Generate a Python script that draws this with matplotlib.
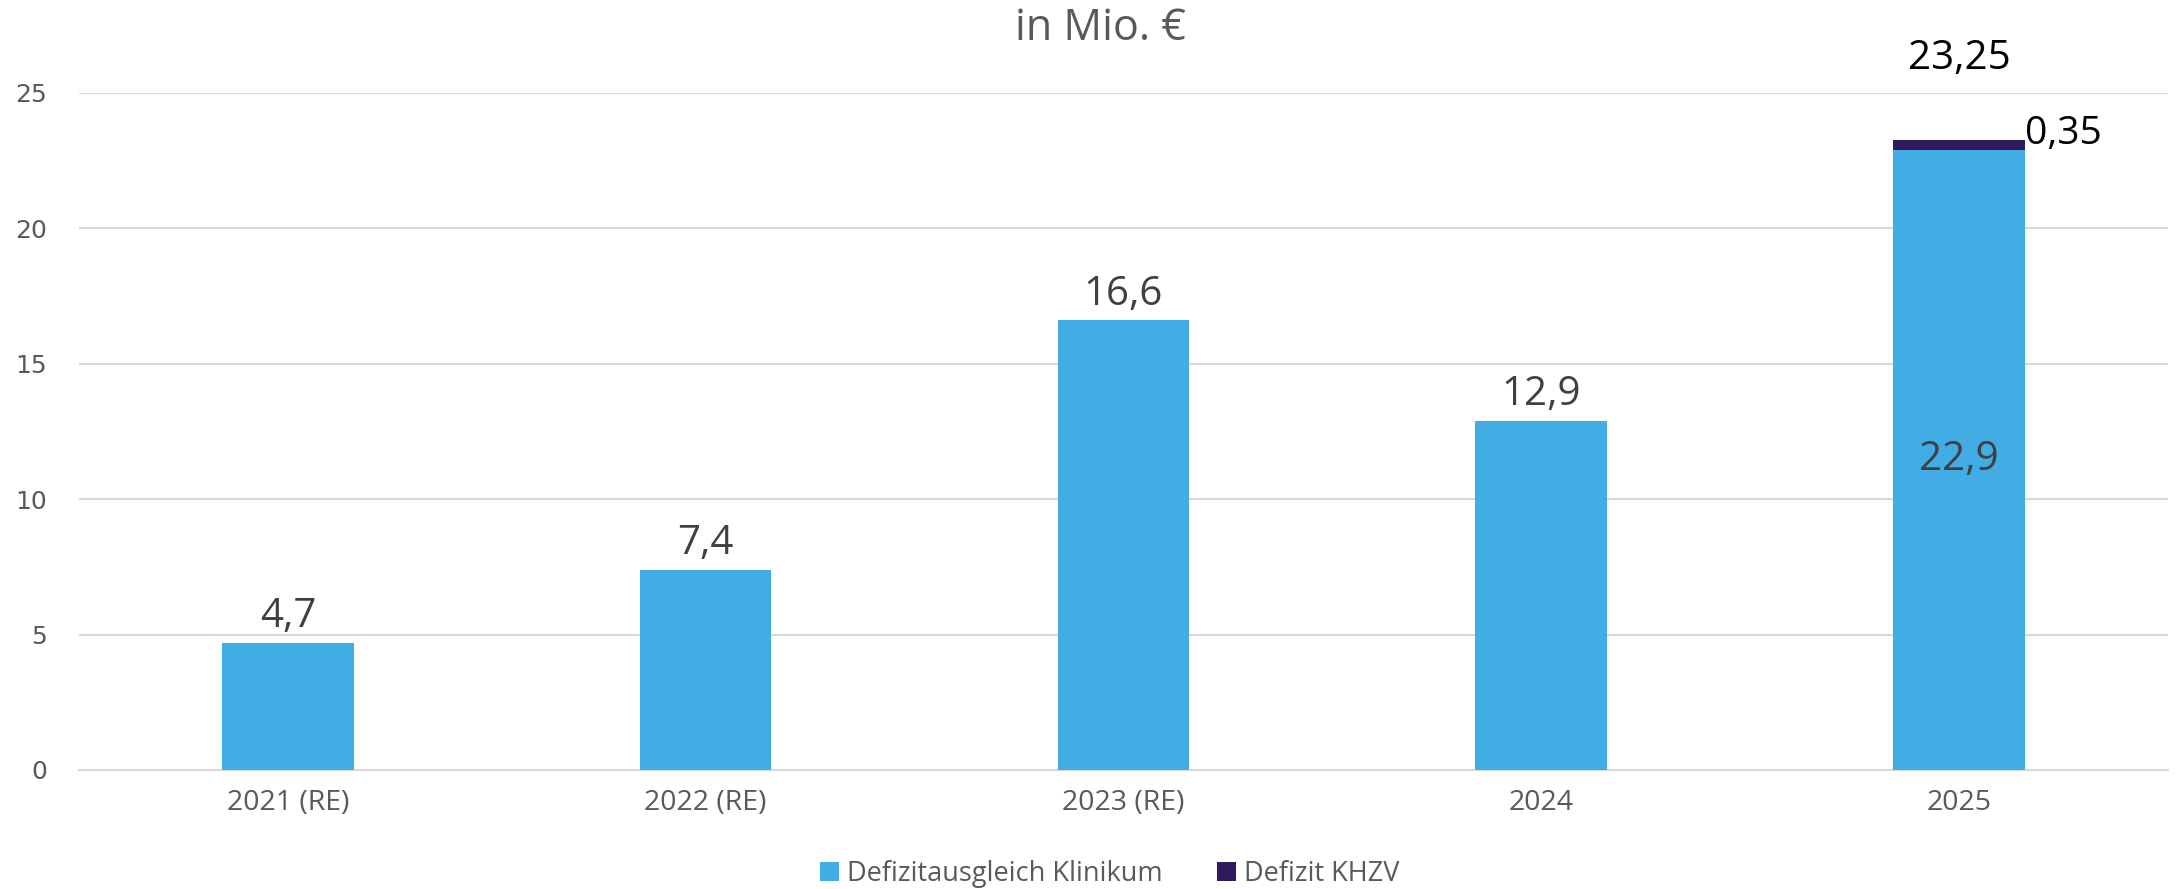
import matplotlib
matplotlib.use("Agg")
import matplotlib.pyplot as plt
import numpy as np

categories = ["2021 (RE)", "2022 (RE)", "2023 (RE)", "2024", "2025"]
klinikum = [4.7, 7.4, 16.6, 12.9, 22.9]
khzv = [0, 0, 0, 0, 0.35]
totals = [4.7, 7.4, 16.6, 12.9, 23.25]
yticks = [0, 5, 10, 15, 20, 25]

FONT = ["Open Sans", "DejaVu Sans"]
plt.rcParams["font.family"] = FONT

c_light = "#42ADE4"
c_dark = "#2E1A5C"
grey = "#595959"

fig = plt.figure(figsize=(21.76, 8.89), dpi=100)
ax = fig.add_axes([0.0363, 0.1339, 0.9600, 0.7615])

x = np.arange(len(categories))
w = 0.315
ax.bar(x, klinikum, width=w, color=c_light, label="Defizitausgleich Klinikum", zorder=3)
ax.bar(x, khzv, width=w, bottom=klinikum, color=c_dark, label="Defizit KHZV", zorder=3)

ax.set_xlim(-0.5, len(categories) - 0.5)
ax.set_ylim(0, 25)
ax.set_yticks(yticks)
ax.set_yticklabels([str(v) for v in yticks], family="DejaVu Sans", fontsize=18, color=grey)
ax.set_xticks(x)
ax.set_xticklabels(categories, fontsize=20.5, color=grey)
ax.tick_params(axis="y", length=0, pad=23)
ax.tick_params(axis="x", length=0, pad=14)
ax.grid(axis="y", color="#d9d9d9", linewidth=1.5, zorder=0)
for s in ["top", "right", "left"]:
    ax.spines[s].set_visible(False)
ax.spines["bottom"].set_color("#d9d9d9")
ax.spines["bottom"].set_linewidth(1.5)

def fmt(v):
    s = f"{v:g}"
    return s.replace(".", ",")

for i in range(4):
    ax.annotate(fmt(klinikum[i]), (x[i], klinikum[i]), xytext=(0, 4), textcoords="offset points",
                ha="center", va="bottom", fontsize=29, color="#404040")

i = 4
ax.text(x[i], klinikum[i] / 2, fmt(klinikum[i]), ha="center", va="center", fontsize=29, color="#404040", zorder=4)
ax.annotate(fmt(khzv[i]), (x[i] + w / 2, klinikum[i] + khzv[i]), xytext=(0, -9), textcoords="offset points",
            ha="left", va="bottom", fontsize=28, color="black", annotation_clip=False)
ax.annotate(fmt(totals[i]), (x[i], totals[i]), xytext=(0, 44), textcoords="offset points",
            ha="center", va="bottom", fontsize=29, color="black", annotation_clip=False)

fig.text(0.5055, 0.968, "in Mio. €", ha="center", va="center", fontsize=31, color=grey)

leg = fig.legend(loc="center", bbox_to_anchor=(0.51, 0.017), ncol=2, frameon=False, fontsize=19.5,
                 handlelength=0.7, handleheight=0.7, handletextpad=0.3, columnspacing=2.0)
for t in leg.get_texts():
    t.set_color(grey)

fig.savefig("out.png", dpi=100)
